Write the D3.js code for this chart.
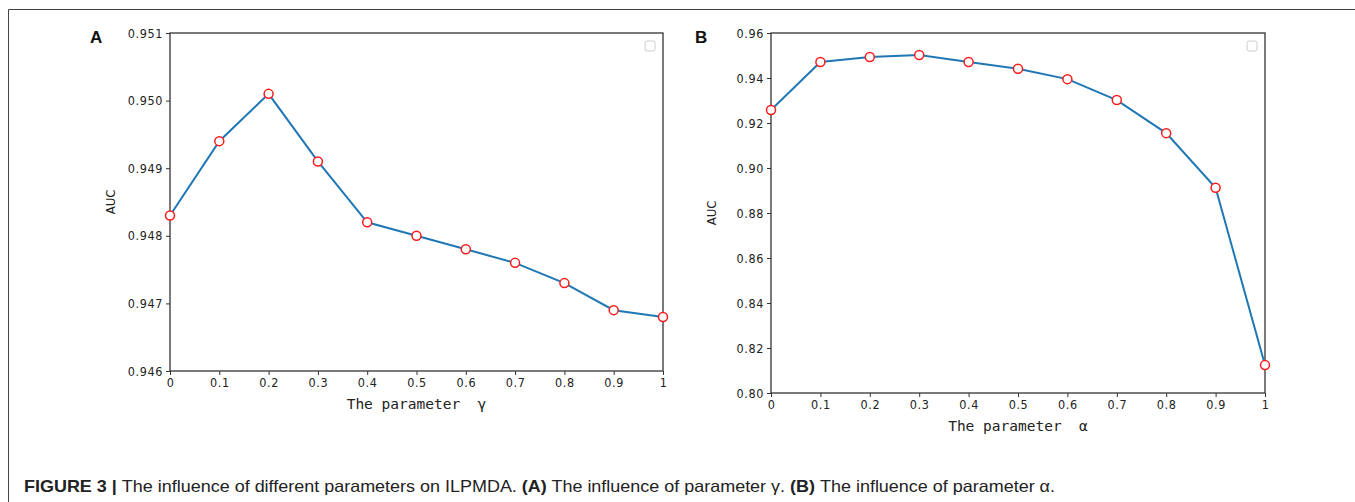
<!DOCTYPE html>
<html>
<head>
<meta charset="utf-8">
<script src="https://cdn.jsdelivr.net/npm/d3@7"></script>
<style>
  body { margin: 0; background: #fff; }
  svg { display: block; }
  .tick text { font-family: "DejaVu Sans Condensed", "Noto Sans", sans-serif; font-size: 12.5px; letter-spacing: 0.6px; fill: #222; }
</style>
</head>
<body>
<div id="scene"></div>
<script>
// parameter values on the x axis (shared)
const params = [0, 0.1, 0.2, 0.3, 0.4, 0.5, 0.6, 0.7, 0.8, 0.9, 1];
// AUC for parameter gamma (panel A)
const aucGamma = [0.9483, 0.9494, 0.9501, 0.9491, 0.9482, 0.9480, 0.9478, 0.9476, 0.9473, 0.9469, 0.9468];
// AUC for parameter alpha (panel B)
const aucAlpha = [0.9258, 0.9471, 0.9493, 0.9502, 0.9471, 0.9441, 0.9395, 0.9302, 0.9155, 0.8912, 0.8124];
const xTicks = [0, 0.1, 0.2, 0.3, 0.4, 0.5, 0.6, 0.7, 0.8, 0.9, 1];
const yTicksA = [0.946, 0.947, 0.948, 0.949, 0.950, 0.951];
const yTicksB = [0.80, 0.82, 0.84, 0.86, 0.88, 0.90, 0.92, 0.94, 0.96];

const width = 1355, height = 502;
const svg = d3.select("#scene").append("svg")
  .attr("width", width)
  .attr("height", height);

// outer figure frame (top + left edges)
svg.append("path")
  .attr("d", `M8.5,${height} L8.5,9.5 L${width},9.5`)
  .attr("fill", "none")
  .attr("stroke", "#444")
  .attr("stroke-width", 1);

function drawPanel(opts) {
  const x = d3.scaleLinear().domain([0, 1]).range([opts.left, opts.right]);
  const y = d3.scaleLinear().domain(opts.yDomain).range([opts.bottom, opts.top]);

  const g = svg.append("g");

  // axes
  g.append("g")
    .attr("transform", `translate(0,${opts.bottom})`)
    .call(d3.axisBottom(x).tickValues(xTicks).tickSize(4).tickPadding(3)
      .tickFormat(d => d === 0 ? "0" : d === 1 ? "1" : d3.format(".1f")(d)))
    .call(a => a.select(".domain").remove());
  g.append("g")
    .attr("transform", `translate(${opts.left},0)`)
    .call(d3.axisLeft(y).tickValues(opts.yTicks).tickSize(4).tickPadding(3)
      .tickFormat(d3.format(opts.yFormat)))
    .call(a => a.select(".domain").remove());
  g.selectAll(".tick line").attr("stroke", "#333");

  // frame around plot area
  g.append("rect")
    .attr("x", opts.left)
    .attr("y", opts.top)
    .attr("width", opts.right - opts.left)
    .attr("height", opts.bottom - opts.top)
    .attr("fill", "none")
    .attr("stroke", "#333")
    .attr("stroke-width", 1.3);

  // line
  const line = d3.line().x((d, i) => x(params[i])).y(d => y(d));
  g.append("path")
    .datum(opts.values)
    .attr("d", line)
    .attr("fill", "none")
    .attr("stroke", "#1f77b4")
    .attr("stroke-width", 2);

  // markers
  g.selectAll("circle.pt")
    .data(opts.values)
    .enter()
    .append("circle")
    .attr("class", "pt")
    .attr("cx", (d, i) => x(params[i]))
    .attr("cy", d => y(d))
    .attr("r", 4.5)
    .attr("fill", "white")
    .attr("stroke", "#ff1a1a")
    .attr("stroke-width", 1.5);

  // empty legend box
  g.append("rect")
    .attr("x", opts.right - 18)
    .attr("y", opts.top + 8)
    .attr("width", 10)
    .attr("height", 10)
    .attr("rx", 2)
    .attr("fill", "white")
    .attr("stroke", "#ccc")
    .attr("stroke-width", 1);

  // axis titles
  g.append("text")
    .attr("transform", `translate(${opts.left - 55},${(opts.top + opts.bottom) / 2}) rotate(-90)`)
    .attr("text-anchor", "middle")
    .attr("font-family", "'DejaVu Sans Condensed', sans-serif")
    .attr("font-size", "13px")
    .attr("fill", "#222")
    .text("AUC");

  g.append("text")
    .attr("x", (opts.left + opts.right) / 2)
    .attr("y", opts.bottom + 38)
    .attr("text-anchor", "middle")
    .attr("font-family", "'DejaVu Sans Mono', monospace")
    .attr("font-size", "14.5px")
    .attr("fill", "#222")
    .attr("xml:space", "preserve")
    .text(opts.xLabel);

  // panel letter
  g.append("text")
    .attr("x", opts.letterX)
    .attr("y", 43)
    .attr("font-family", "'Liberation Sans', Arial, sans-serif")
    .attr("font-weight", "bold")
    .attr("font-size", "17px")
    .attr("fill", "#111")
    .text(opts.letter);
}

drawPanel({
  left: 170, right: 663, top: 33, bottom: 371,
  yDomain: [0.946, 0.951], yTicks: yTicksA, yFormat: ".3f",
  values: aucGamma, xLabel: "The parameter  \u03b3", letter: "A", letterX: 90
});

drawPanel({
  left: 771, right: 1265, top: 33, bottom: 393,
  yDomain: [0.80, 0.96], yTicks: yTicksB, yFormat: ".2f",
  values: aucAlpha, xLabel: "The parameter  \u03b1", letter: "B", letterX: 695
});

// caption
const cap = svg.append("text")
  .attr("x", 24)
  .attr("y", 492)
  .attr("font-family", "'Liberation Sans Narrow', 'Liberation Sans', Arial, sans-serif")
  .attr("font-size", "16.5px")
  .attr("fill", "#222")
  .attr("xml:space", "preserve")
  .attr("textLength", 1031)
  .attr("lengthAdjust", "spacingAndGlyphs");
cap.append("tspan").attr("font-weight", "bold").text("FIGURE 3 | ");
cap.append("tspan").text("The influence of different parameters on ILPMDA. ");
cap.append("tspan").attr("font-weight", "bold").text("(A)");
cap.append("tspan").text(" The influence of parameter \u03b3. ");
cap.append("tspan").attr("font-weight", "bold").text("(B)");
cap.append("tspan").text(" The influence of parameter \u03b1.");
</script>
</body>
</html>
